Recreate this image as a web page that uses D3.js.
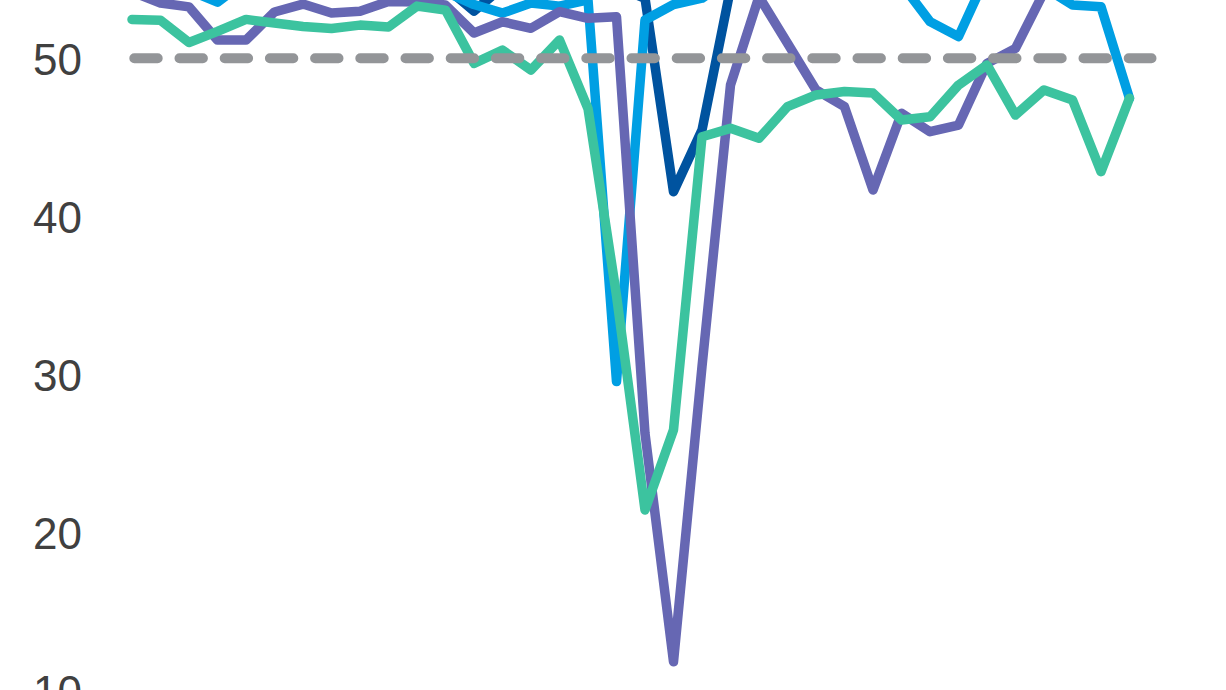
<!DOCTYPE html>
<html>
<head>
<meta charset="utf-8">
<script src="https://cdn.jsdelivr.net/npm/d3@7"></script>
<style>
  html, body { margin: 0; padding: 0; background: #ffffff; }
  svg { display: block; }
</style>
</head>
<body>
<svg id="chart" width="1226" height="690"></svg>
<script>
// ---- data (monthly index readings, 36 periods) ----
const periods = d3.range(36);
const darkBlue = [55.5, 55.8, 56.0, 55.6, 55.9, 56.2, 56.0, 55.8, 55.6, 55.5, 55.2, 54.5,
                  52.99, 54.5, 53.85, 54.5, 55.0, 54.5, 53.8, 41.56, 45.46, 54.4, 55.5, 56.0,
                  56.0, 55.8, 55.5, 55.6, 55.8, 55.5, 55.6, 55.8, 55.5, 55.2, 55.0, 55.0];
const lightBlue = [55.5, 55.0, 54.3, 53.55, 54.9, 55.5, 56.0, 56.0, 55.5, 55.0, 54.8, 54.2,
                   53.4, 52.86, 53.5, 53.3, 53.7, 29.55, 52.42, 53.4, 53.8, 55.0, 56.0, 56.0,
                   56.0, 55.5, 55.0, 54.7, 52.32, 51.37, 55.3, 55.5, 54.5, 53.37, 53.26, 47.47];
const purple = [54.2, 53.5, 53.25, 51.15, 51.15, 52.93, 53.43, 52.87, 52.98, 53.6, 53.56, 53.37,
                51.6, 52.31, 51.9, 52.95, 52.53, 52.63, 26.28, 11.83, 30.5, 48.31, 53.9, 50.95,
                48.0, 46.94, 41.67, 46.52, 45.36, 45.78, 49.68, 50.63, 54.2, 55.5, 55.0, 54.8];
const teal = [52.46, 52.4, 51.0, 51.7, 52.46, 52.23, 52.01, 51.88, 52.1, 51.98, 53.3, 53.05,
              49.68, 50.52, 49.26, 51.16, 46.82, 35.0, 21.43, 26.5, 45.04, 45.57, 44.94, 46.94,
              47.68, 47.9, 47.8, 46.1, 46.3, 48.31, 49.58, 46.41, 48.0, 47.36, 42.83, 47.47];
const threshold = 50;
const yTicks = [10, 20, 30, 40, 50];

const series = [
  { name: "dark",   values: darkBlue,  color: "#00539f" },
  { name: "light",  values: lightBlue, color: "#009fe3" },
  { name: "purple", values: purple,    color: "#6667b3" },
  { name: "teal",   values: teal,      color: "#3cc39f" }
];

// ---- scales ----
const svg = d3.select("#chart");
const x = d3.scaleLinear().domain([0, 35]).range([132, 1129.5]);
const y = d3.scaleLinear().domain([10, 50]).range([690.7, 58.3]);

// ---- y axis labels ----
const axis = d3.axisLeft(y).tickValues(yTicks).tickSize(0).tickPadding(0).tickFormat(d3.format("d"));
const gAxis = svg.append("g").attr("transform", "translate(82,0)").call(axis);
gAxis.select(".domain").remove();
gAxis.selectAll("text")
  .attr("dy", "0.36em")
  .style("font-family", "'Liberation Sans', Arial, sans-serif")
  .style("font-size", "44px")
  .style("fill", "#404040");

// ---- lines ----
const line = d3.line().x((d, i) => x(i)).y(d => y(d));
svg.append("g").selectAll("path")
  .data(series)
  .join("path")
  .attr("d", d => line(d.values))
  .attr("fill", "none")
  .attr("stroke", d => d.color)
  .attr("stroke-width", 9.5)
  .attr("stroke-linejoin", "round")
  .attr("stroke-linecap", "round");

// ---- 50 reference line ----
svg.append("line")
  .attr("x1", x(0) + 2.3)
  .attr("x2", x(35) + 22)
  .attr("y1", y(threshold))
  .attr("y2", y(threshold))
  .attr("stroke", "#939598")
  .attr("stroke-width", 10)
  .attr("stroke-linecap", "round")
  .attr("stroke-dasharray", "23.4 21.8");
</script>
</body>
</html>
